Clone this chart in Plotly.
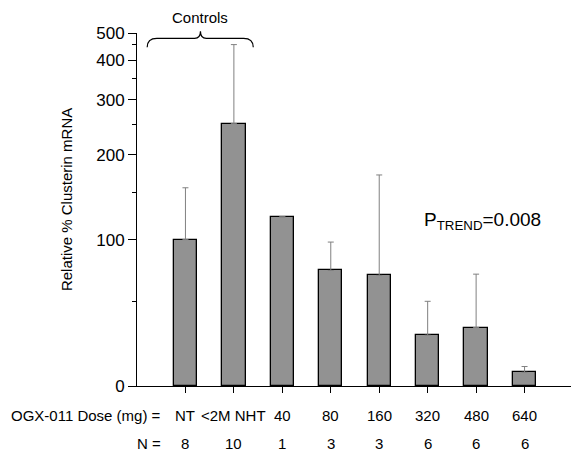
import numpy as np
import plotly.graph_objects as go

# ---- data ----
dose_labels = ["NT", "<2M NHT", "40", "80", "160", "320", "480", "640"]
n_labels = ["8", "10", "1", "3", "3", "6", "6", "6"]
mean_pct = [100, 252, 124, 75, 71, 30, 34.5, 8.1]
upper_pct = [156, 450, None, 98, 173, 50, 72, 11.5]
ytick_vals = [0, 100, 200, 300, 400, 500]
yminor_vals = [50, 150, 250, 350, 450]

# ---- the chart's non-linear y scale (defined by its tick spacing) ----
scale_vals = [0, 50, 100, 150, 200, 250, 300, 350, 400, 450, 500]
scale_pos = np.array([0, 84.7, 146.4, 193.7, 231.4, 261.4, 286.4, 307.4, 325.7, 341.4, 353.0]) / 353.0


def T(v):
    return float(np.interp(v, scale_vals, scale_pos))


xs = list(range(1, len(dose_labels) + 1))
y_t = [T(v) for v in mean_pct]
err_plus = [(T(u) - T(m)) if u is not None else float("nan") for u, m in zip(upper_pct, mean_pct)]

FONT = "Liberation Sans, Arial, sans-serif"

fig = go.Figure()
fig.add_trace(go.Bar(
    x=xs, y=y_t, width=0.48,
    marker=dict(color="#929292", line=dict(color="#000000", width=1.3)),
    error_y=dict(type="data", symmetric=False, array=err_plus,
                 arrayminus=[0] * len(xs), color="#808080", thickness=1, width=3),
    showlegend=False, hoverinfo="skip",
))

# page has an 8px body margin; figure is sized to fit the window
W, H = 571, 445
L, R, TOP, B = 128.7, 6.3, 24.7, 67.3
PW, PH = W - L - R, H - TOP - B
fig.update_layout(
    width=W, height=H,
    margin=dict(l=L, r=R, t=TOP, b=B, autoexpand=False),
    paper_bgcolor="white", plot_bgcolor="white",
    font=dict(family=FONT, color="#000000"),
    bargap=0,
    xaxis=dict(range=[0, 9], showgrid=False, zeroline=False, showline=True,
               linecolor="#000", linewidth=1, tickmode="array", tickvals=xs,
               ticks="outside", ticklen=6, tickcolor="#000", showticklabels=False),
    yaxis=dict(range=[0, 1], showgrid=False, zeroline=False, showline=True,
               linecolor="#000", linewidth=1, tickmode="array",
               tickvals=[T(v) for v in ytick_vals], ticktext=[str(v) for v in ytick_vals],
               ticks="outside", ticklen=8, tickcolor="#000",
               tickfont=dict(size=17, family=FONT),
               minor=dict(tickmode="array", tickvals=[T(v) for v in yminor_vals],
                          ticks="outside", ticklen=4, tickcolor="#000")),
)

# y-axis title (placed slightly above the plot centre, as in the reference)
fig.add_annotation(text="Relative % Clusterin mRNA", textangle=-90,
                   x=(57.5 - L) / PW, xref="paper", xanchor="center",
                   y=(H - B - 191) / PH, yref="paper", yanchor="middle",
                   showarrow=False, font=dict(size=15))

# Rows of dose labels and N labels
ROW1, ROW2 = -29.3 / PH, -57.3 / PH
fig.add_annotation(text="OGX-011 Dose (mg) =", x=(155 - L) / PW, xref="paper", xanchor="right",
                   y=ROW1, yref="paper", yanchor="middle", showarrow=False, font=dict(size=15))
fig.add_annotation(text="N =", x=(155 - L) / PW, xref="paper", xanchor="right",
                   y=ROW2, yref="paper", yanchor="middle", showarrow=False, font=dict(size=15))
for lab, xv in zip(dose_labels, xs):
    fig.add_annotation(text=lab, x=xv, xref="x", xanchor="center", y=ROW1, yref="paper",
                       yanchor="middle", showarrow=False, font=dict(size=15))
for lab, xv in zip(n_labels, xs):
    fig.add_annotation(text=lab, x=xv, xref="x", xanchor="center", y=ROW2, yref="paper",
                       yanchor="middle", showarrow=False, font=dict(size=15))

# P trend
fig.add_annotation(text="P<sub>TREND</sub>=0.008", x=7.13, xref="x", y=T(124) - 0.012,
                   yref="y", showarrow=False, font=dict(size=19))

# Controls brace
xl, xm, xr = 0.21, 1.31, 2.40
yb, yh, yt = 1.0 - (47 - 32.7) / PH, 1.0 - (38 - 32.7) / PH, 1.0 + (32.7 - 31) / PH
path = (f"M {xl},{yb} Q {xl},{yh} {xl + 0.2},{yh} L {xm - 0.12},{yh} "
        f"Q {xm},{yh} {xm},{yt} Q {xm},{yh} {xm + 0.12},{yh} L {xr - 0.2},{yh} "
        f"Q {xr},{yh} {xr},{yb}")
fig.add_shape(type="path", path=path, xref="x", yref="paper",
              line=dict(color="#000", width=1.2))
fig.add_annotation(text="Controls", x=xm, xref="x", y=1.0 + (32.7 - 17.5) / PH, yref="paper",
                   yanchor="middle", showarrow=False, font=dict(size=15))

fig.write_html("out.html")
